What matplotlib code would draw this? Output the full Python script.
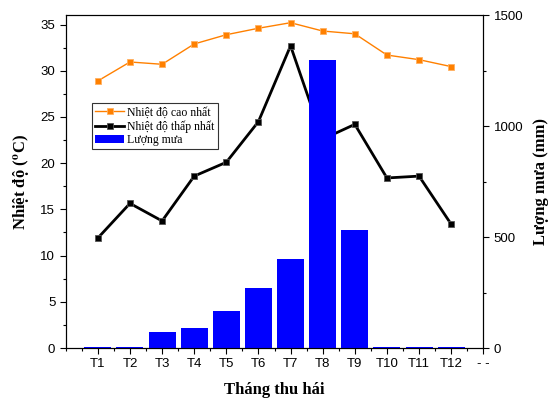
import numpy as np
import matplotlib.pyplot as plt
import matplotlib.ticker as mticker

plt.rcParams['font.family'] = ['Liberation Sans', 'DejaVu Sans']
plt.rcParams['mathtext.fontset'] = 'stix'

months = ['T1', 'T2', 'T3', 'T4', 'T5', 'T6', 'T7', 'T8', 'T9', 'T10', 'T11', 'T12']
t_max = [28.9, 30.95, 30.7, 32.9, 33.9, 34.6, 35.2, 34.3, 34.0, 31.7, 31.2, 30.45]
t_min = [11.9, 15.65, 13.75, 18.6, 20.1, 24.5, 32.7, 22.6, 24.2, 18.4, 18.6, 13.4]
rain = [5, 5, 70, 88, 165, 272, 402, 1300, 530, 5, 5, 5]

x = np.arange(1, len(months) + 1)
serif = 'Liberation Serif'

fig = plt.figure(figsize=(5.5, 4.05), dpi=100)
ax = fig.add_axes([0.1195, 0.1407, 0.7592, 0.8215])
ax2 = ax.twinx()

l1, = ax.plot(x, t_max, color='#FF8000', lw=1.0, marker='s', ms=5,
              mec='#FFB060', mew=0.6, label='Nhiệt độ cao nhất')
l2, = ax.plot(x, t_min, color='black', lw=2.0, marker='s', ms=5,
              mec='#555555', mew=0.6, label='Nhiệt độ thấp nhất')
b = ax2.bar(x, rain, width=0.84, color='#0000FF', label='Lượng mưa')

ax.set_xlim(0, 13)
ax.set_ylim(0, 36)
ax2.set_ylim(0, 1500)

ax.set_xticks(list(x) + [13])
ax.set_xticklabels(months + ['- -'])
ax.xaxis.set_minor_locator(mticker.MultipleLocator(0.5))
ax.set_yticks(np.arange(0, 36, 5))
ax.yaxis.set_minor_locator(mticker.MultipleLocator(2.5))
ax2.set_yticks([0, 500, 1000, 1500])
ax2.yaxis.set_minor_locator(mticker.MultipleLocator(250))

for a in (ax, ax2):
    a.tick_params(which='major', direction='out', length=4, width=0.8, labelsize=9.5)
    a.tick_params(which='minor', direction='out', length=2.5, width=0.8)
ax.tick_params(axis='x', which='minor', length=2.5)

ax.set_xlabel('Tháng thu hái', family=serif, fontweight='bold', fontsize=12, labelpad=8)
ax.set_ylabel(r'Nhiệt độ ($^{\mathbf{o}}$C)', family=serif, fontweight='bold', fontsize=12, labelpad=6)
ax2.set_ylabel('Lượng mưa (mm)', family=serif, fontweight='bold', fontsize=12, labelpad=7)

leg = ax2.legend(handles=[l1, l2, b], loc='upper left', bbox_to_anchor=(0.064, 0.735),
                 prop={'family': serif, 'size': 8.5}, frameon=True, fancybox=False,
                 edgecolor='#333333', framealpha=1, borderpad=0.25, labelspacing=0.15,
                 handlelength=2.4, handletextpad=0.3, borderaxespad=0)
leg.get_frame().set_linewidth(0.8)

fig.savefig('out.png', dpi=100)
